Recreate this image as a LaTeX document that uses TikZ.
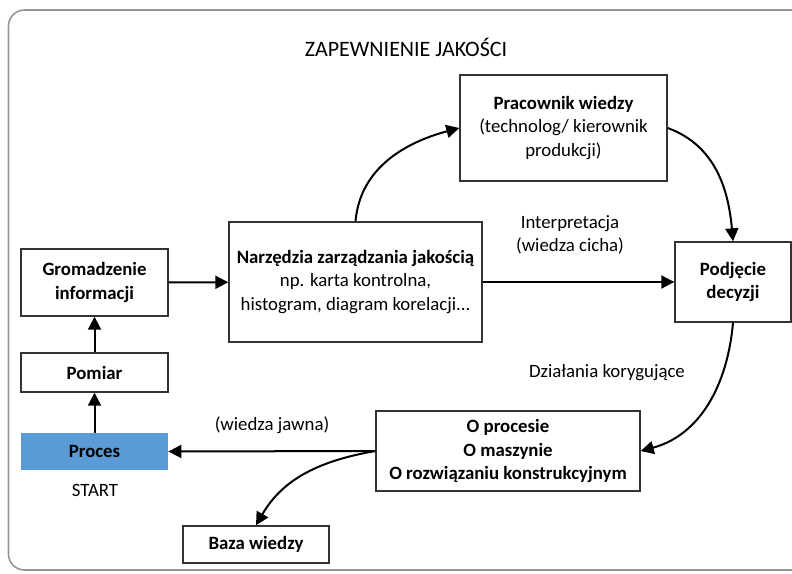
\documentclass[tikz,border=0pt]{standalone}
\usepackage{fontspec}
\setmainfont{Carlito}
\usetikzlibrary{arrows.meta}
\definecolor{procblue}{RGB}{91,155,213}
\definecolor{framegray}{RGB}{150,150,150}

\begin{document}
\begin{tikzpicture}[x = .5pt, y = -.5pt]
		\tikzstyle{every node} = [font = \fontsize{9.4}{11.8}\selectfont, align = center]
		\tikzstyle{box} = [draw = black!80, line width = .7pt, inner sep = 0pt]
		\tikzstyle{arr} = [line width = 1pt, -{Triangle[length = 6.5pt, width = 6.5pt]}]
		\useasboundingbox (0,0) rectangle (792,573);
		\draw [framegray, line width = .8pt, rounded corners = 8pt] (8.5,10) rectangle (820,570);

		\node (title) at (406,47) {\fontsize{11}{13}\selectfont ZAPEWNIENIE JAKOŚCI};

		% left column
		\node [box, minimum width = 73.5pt, minimum height = 33.5pt] (grom) at (94.5,282.5) {\textbf{Gromadzenie}\\\textbf{informacji}};
		\node [box, minimum width = 73.5pt, minimum height = 19.5pt] (pomiar) at (94.5,372.5) {\textbf{Pomiar}};
		\node [fill = procblue, inner sep = 0pt, minimum width = 73.5pt, minimum height = 18.5pt] (proces) at (94.5,451.5) {\textbf{Proces}};
		\node (start) at (95,490) {START};

		% loop
		\node [box, minimum width = 126.5pt, minimum height = 60pt] (narz) at (355.5,282) {\textbf{Narzędzia zarządzania jakością}\\np. karta kontrolna,\\histogram, diagram korelacji...};
		\node [box, minimum width = 103.5pt, minimum height = 53pt] (prac) at (563.5,128) {\textbf{Pracownik wiedzy}\\(technolog/ kierownik\\produkcji)};
		\node [box, minimum width = 58pt, minimum height = 40pt] (podj) at (733,282) {\textbf{Podjęcie}\\\textbf{decyzji}};
		\node [box, minimum width = 132pt, minimum height = 40pt] (oproc) at (508,451) {\textbf{O procesie}\\\textbf{O maszynie}\\\textbf{O rozwiązaniu konstrukcyjnym}};
		\node [box, minimum width = 73pt, minimum height = 18.5pt] (baza) at (256,544.5) {\textbf{Baza wiedzy}};

		% labels
		\node (interp) at (570,235) {Interpretacja\\(wiedza cicha)};
		\node (dzial) at (607,373) {Działania korygujące};
		\node (jawna) at (272,425) {(wiedza jawna)};

		\draw [arr] (proces) -- (pomiar);
		\draw [arr] (pomiar) -- (grom);
		\draw [arr] (grom) -- (narz);
		\draw [arr] (narz) -- (podj);
		\draw [arr] (narz.north) to [out = 85, in = 195] (prac.west);
		\draw [arr] (prac.east) to [out = -20, in = 95] (podj.north);
		\draw [arr] (podj.south) to [out = -95, in = 15] (oproc.east);
		\draw [arr] (oproc.west) -- (proces.east);
		\draw [arr] (oproc.west) to [out = 190, in = 60] (baza.north);
	\end{tikzpicture}
\end{document}
